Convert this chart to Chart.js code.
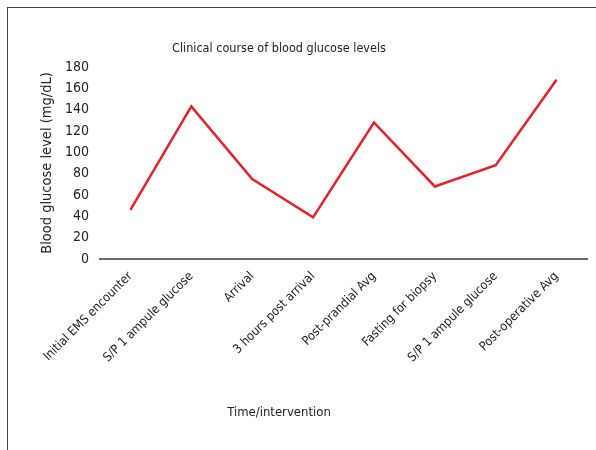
<!DOCTYPE html>
<html>
<head>
<meta charset="utf-8">
<script src="https://cdn.jsdelivr.net/npm/chart.js@4.4.1/dist/chart.umd.min.js"></script>
<style>
  html, body { margin: 0; padding: 0; background: #fff; }
  #wrap { position: relative; width: 596px; height: 450px; overflow: hidden; }
  #frame { position: absolute; left: 7px; top: 7px; width: 620px; height: 480px;
           border-top: 1px solid #444; border-left: 1px solid #444; }
  canvas { position: absolute; left: 0; top: 0; }
</style>
</head>
<body>
<div id="wrap">
  <div id="frame"></div>
  <canvas id="glucoseChart" width="596" height="450"></canvas>
</div>
<script>
// data
const categories = [
    'Initial EMS encounter',
    'S/P 1 ampule glucose',
    'Arrival',
    '3 hours post arrival',
    'Post-prandial Avg',
    'Fasting for biopsy',
    'S/P 1 ampule glucose',
    'Post-operative Avg'
];
const glucoseValues = [46, 143, 75, 39, 128, 68, 88, 168];
const yTicks = [0, 20, 40, 60, 80, 100, 120, 140, 160, 180];

const chartTitle = 'Clinical course of blood glucose levels';
const xTitle = 'Time/intervention';
const yTitle = 'Blood glucose level (mg/dL)';

const fontFamily = "'DejaVu Sans Condensed', 'Liberation Sans Narrow', 'Liberation Sans', sans-serif";
const textColor = '#222';

// titles are centred on the whole figure, not on the plot area
const titlesPlugin = {
    id: 'figureTitles',
    afterDraw(chart) {
        const ctx = chart.ctx;
        ctx.save();
        ctx.fillStyle = textColor;
        ctx.textAlign = 'center';
        ctx.textBaseline = 'middle';
        ctx.font = '12.5px ' + fontFamily;
        ctx.fillText(chartTitle, 279, 49);
        ctx.font = '13px ' + fontFamily;
        ctx.fillText(xTitle, 279, 413);
        ctx.restore();
    }
};

const ctx = document.getElementById('glucoseChart').getContext('2d');
new Chart(ctx, {
    type: 'line',
    data: {
        labels: categories,
        datasets: [{
            data: glucoseValues,
            borderColor: '#e8202a',
            borderWidth: 2.5,
            pointRadius: 0,
            tension: 0,
            fill: false
        }]
    },
    options: {
        responsive: false,
        animation: false,
        layout: { padding: { left: 0, top: 67, right: 9, bottom: 0 } },
        plugins: {
            legend: { display: false },
            tooltip: { enabled: false }
        },
        scales: {
            x: {
                offset: true,
                grid: { display: false },
                border: { display: true, color: '#6a6a6a', width: 2 },
                ticks: {
                    color: textColor,
                    font: { family: fontFamily, size: 12.5 },
                    minRotation: 45,
                    maxRotation: 45,
                    padding: 2,
                    autoSkip: false
                },
                afterFit(scale) { scale.height = 191; }
            },
            y: {
                min: 0,
                max: 180,
                grid: { display: false },
                border: { display: false },
                afterBuildTicks(scale) { scale.ticks = yTicks.map(v => ({ value: v })); },
                ticks: {
                    color: textColor,
                    font: { family: fontFamily, size: 14 },
                    padding: 3,
                    autoSkip: false
                },
                title: {
                    display: true,
                    text: yTitle,
                    color: textColor,
                    font: { family: fontFamily, size: 14.5 },
                    padding: { top: 39, bottom: 0 }
                },
                afterFit(scale) { scale.width = 100; }
            }
        }
    },
    plugins: [titlesPlugin]
});
</script>
</body>
</html>
